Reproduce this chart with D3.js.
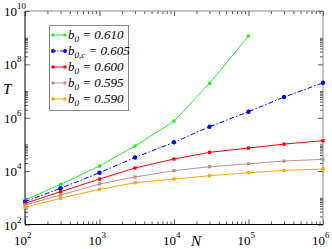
<!DOCTYPE html>
<html>
<head>
<meta charset="utf-8">
<script src="https://cdn.jsdelivr.net/npm/d3@7"></script>
<style>
  body { margin: 0; background: #fff; }
  svg { display: block; }
</style>
</head>
<body>
<script>
// datos
const N = [1e2, 3e2, 1e3, 3e3, 1e4, 3e4, 1e5, 3e5, 1e6];
const t610 = [828, 3200, 15500, 87000, 7.5e5, 1.94e7, 1.15e9];
const t605 = [714, 2270, 8710, 32400, 1.2e5, 4.6e5, 1.68e6, 5.96e6, 2.04e7];
const t600 = [622, 1690, 5060, 13100, 28400, 50600, 73300, 1.03e5, 1.38e5];
const t595 = [537, 1270, 3290, 6030, 10400, 14600, 18900, 23900, 27700];
const t590 = [441, 957, 2080, 3680, 5060, 6730, 8710, 10700, 12000];

const labels = [["0", "0.610"], ["0,c", "0.605"], ["0", "0.600"], ["0", "0.595"], ["0", "0.590"]];
const colors = ["#22ee22", "#0000ff", "#ff0000", "#bc8f8f", "#ffa500"];
const xMajors = [1e2, 1e3, 1e4, 1e5, 1e6];
const yMajors = [1e2, 1e4, 1e6, 1e8, 1e10];

const series = [t610, t605, t600, t595, t590];

const serif = "'Liberation Serif', 'Times New Roman', serif";
const width = 332, height = 249;
const svg = d3.select("body").append("svg")
    .attr("width", width)
    .attr("height", height)
    .attr("font-family", serif);

const x = d3.scaleLog().domain([1e2, 1e6]).range([25, 323]);
const y = d3.scaleLog().domain([1e2, 1e10]).range([224.5, 11]);

// ticks menores
const xMinor = [];
for (let e = 2; e < 6; e++) for (let k = 2; k <= 9; k++) xMinor.push(k * Math.pow(10, e));
const yMinor = [];
for (let e = 2; e < 10; e += 2) for (let k = 2; k <= 10; k++) yMinor.push(k * Math.pow(10, e));

const x0 = 25, x1 = 323, y0 = 224.5, y1 = 11;

function addAxis(gen, vals, size, tx, ty) {
    const g = svg.append("g")
        .attr("transform", `translate(${tx},${ty})`)
        .call(gen.tickValues(vals).tickSize(size).tickSizeOuter(0).tickFormat(""));
    g.select(".domain").remove();
    g.selectAll(".tick line").attr("stroke", "#555");
}

addAxis(d3.axisBottom(x), xMajors, -5, 0, y0);
addAxis(d3.axisBottom(x), xMinor, -3, 0, y0);
addAxis(d3.axisTop(x), xMajors, -5, 0, y1);
addAxis(d3.axisTop(x), xMinor, -3, 0, y1);
addAxis(d3.axisLeft(y), yMajors, -5, x0, 0);
addAxis(d3.axisLeft(y), yMinor, -3, x0, 0);
addAxis(d3.axisRight(y), yMajors, -5, x1, 0);
addAxis(d3.axisRight(y), yMinor, -3, x1, 0);

// marco
svg.append("line").attr("x1", x0).attr("x2", x1).attr("y1", y1).attr("y2", y1).attr("stroke", "#888");
svg.append("line").attr("x1", x1).attr("x2", x1).attr("y1", y1).attr("y2", y0).attr("stroke", "#888");
svg.append("line").attr("x1", x0).attr("x2", x1).attr("y1", y0).attr("y2", y0).attr("stroke", "#000");
svg.append("line").attr("x1", x0).attr("x2", x0).attr("y1", y1).attr("y2", y0).attr("stroke", "#000");

// etiquetas de los ejes
xMajors.forEach(v => {
    const px = x(v);
    svg.append("text").attr("x", px + 2).attr("y", 245).attr("text-anchor", "end")
        .style("font-size", "13px").text("10");
    svg.append("text").attr("x", px + 2).attr("y", 238).style("font-size", "9px")
        .text(Math.round(Math.log10(v)));
});
yMajors.forEach(v => {
    const py = y(v);
    svg.append("text").attr("x", 17).attr("y", py + 5).attr("text-anchor", "end")
        .style("font-size", "13px").text("10");
    svg.append("text").attr("x", 17).attr("y", py - 2).style("font-size", "9px")
        .text(Math.round(Math.log10(v)));
});

svg.append("text").attr("x", 3).attr("y", 94).style("font-size", "15px")
    .style("font-style", "italic").text("T");
svg.append("text").attr("x", 191).attr("y", 246).style("font-size", "15px")
    .style("font-style", "italic").text("N");

// curvas
const line = d3.line().x((d, i) => x(N[i])).y(d => y(d));
series.forEach((s, si) => {
    svg.append("path")
        .attr("d", line(s))
        .attr("fill", "none")
        .attr("stroke", colors[si])
        .attr("stroke-width", 1)
        .attr("stroke-dasharray", si === 1 ? "5,2,1.5,2" : null);
    s.forEach((d, i) => {
        if (si === 1) {
            svg.append("circle").attr("cx", x(N[i])).attr("cy", y(d)).attr("r", 2.2)
                .attr("fill", colors[si]);
        } else {
            svg.append("rect").attr("x", x(N[i]) - 1.6).attr("y", y(d) - 1.6)
                .attr("width", 3.2).attr("height", 3.2).attr("fill", colors[si]);
        }
    });
});

// leyenda
const legend = svg.append("g").attr("transform", "translate(49,25)");
legend.append("rect").attr("x", 0.5).attr("y", 0.5).attr("width", 79).attr("height", 85)
    .attr("fill", "#fff").attr("stroke", "#888");
labels.forEach((l, i) => {
    const ly = 10 + i * 16;
    legend.append("line").attr("x1", 4).attr("x2", 16).attr("y1", ly).attr("y2", ly)
        .attr("stroke", colors[i])
        .attr("stroke-dasharray", i === 1 ? "3,1.5,1,1.5" : null);
    [4, 16].forEach(cx => {
        if (i === 1) {
            legend.append("circle").attr("cx", cx).attr("cy", ly).attr("r", 2).attr("fill", colors[i]);
        } else {
            legend.append("rect").attr("x", cx - 1.5).attr("y", ly - 1.5).attr("width", 3)
                .attr("height", 3).attr("fill", colors[i]);
        }
    });
    const t = legend.append("text").attr("x", 19).attr("y", ly + 4)
        .style("font-size", "13px").style("font-style", "italic");
    t.append("tspan").text("b");
    t.append("tspan").attr("dy", 3).style("font-size", "9px").text(l[0]);
    t.append("tspan").attr("dy", -3).text(" = " + l[1]);
});
</script>
</body>
</html>
